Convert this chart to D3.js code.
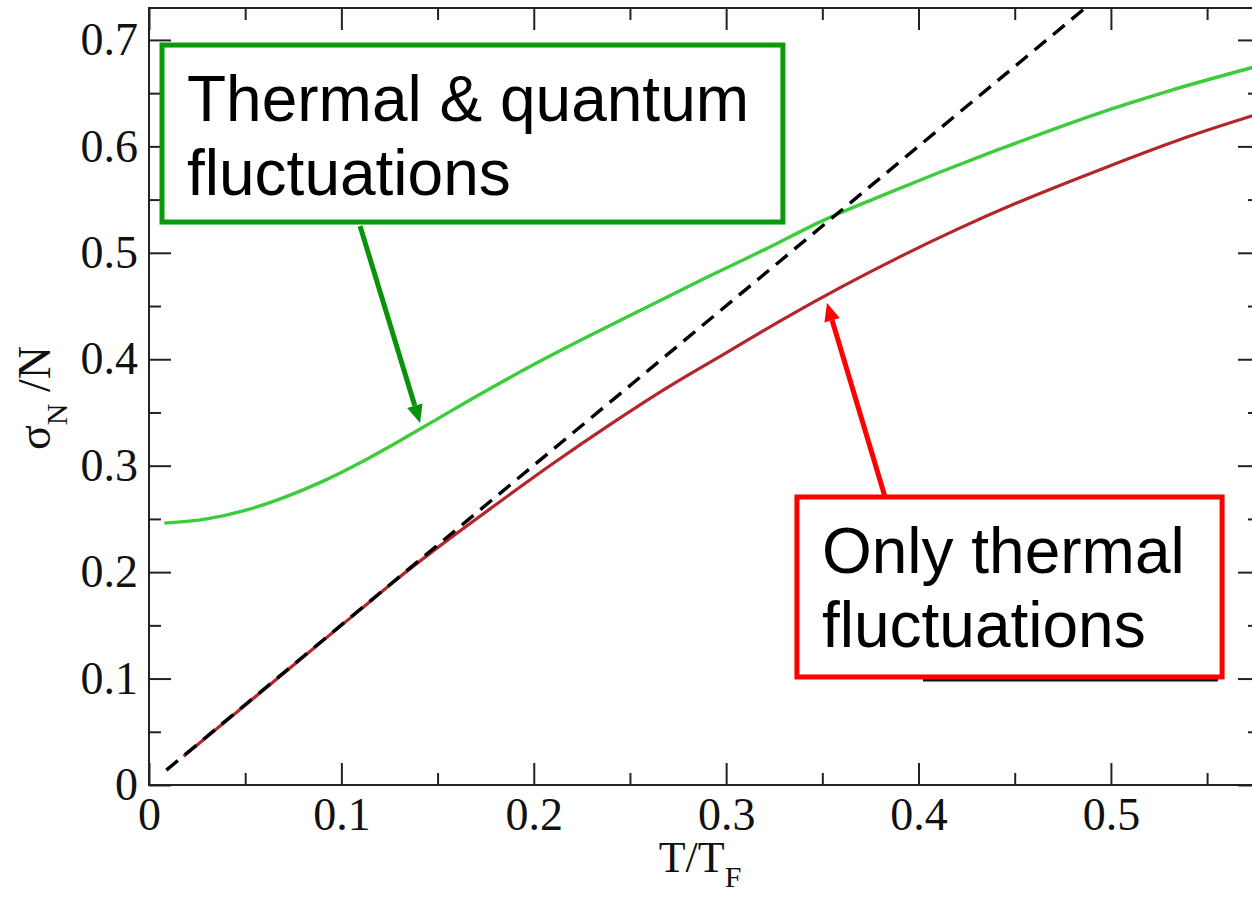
<!DOCTYPE html>
<html>
<head>
<meta charset="utf-8">
<script src="https://cdn.jsdelivr.net/npm/d3@7"></script>
<style>
  html, body { margin: 0; padding: 0; background: #fff; overflow: hidden; }
  svg { display: block; }
  .tick text { font-family: "Liberation Serif", "Times New Roman", serif; fill: #111; }
</style>
</head>
<body>
<div id="chart"></div>
<script>
// T/T_F values and sigma_N/N
var greenX = [0.008, 0.03, 0.05, 0.07, 0.09, 0.11, 0.13, 0.15, 0.17, 0.20, 0.23, 0.26, 0.29, 0.32, 0.35, 0.38, 0.41, 0.44, 0.47, 0.50, 0.53, 0.5775];
var greenY = [0.246, 0.250, 0.258, 0.270, 0.285, 0.303, 0.323, 0.344, 0.365, 0.395, 0.423, 0.450, 0.477, 0.503, 0.530, 0.553, 0.575, 0.596, 0.616, 0.635, 0.652, 0.676];

var redX = [0.018, 0.05, 0.08, 0.11, 0.13, 0.15, 0.18, 0.21, 0.24, 0.27, 0.30, 0.33, 0.36, 0.39, 0.42, 0.45, 0.48, 0.51, 0.54, 0.5775];
var redY = [0.027, 0.075, 0.120, 0.165, 0.195, 0.223, 0.263, 0.302, 0.339, 0.374, 0.406, 0.438, 0.468, 0.496, 0.522, 0.546, 0.568, 0.589, 0.609, 0.631];

var dashX = [0.009, 0.52];
var dashY = [0.014, 0.78];

var xMajor = [0, 0.1, 0.2, 0.3, 0.4, 0.5];
var xMinor = [0.05, 0.15, 0.25, 0.35, 0.45, 0.55];
var yMajor = [0, 0.1, 0.2, 0.3, 0.4, 0.5, 0.6, 0.7];
var yMinor = [0.05, 0.15, 0.25, 0.35, 0.45, 0.55, 0.65];

var greenLabel = ["Thermal & quantum", "fluctuations"];
var redLabel = ["Only thermal", "fluctuations"];

var width = 1252, height = 897;

var x = d3.scaleLinear().domain([0, 0.5775]).range([149, 1260]);
var y = d3.scaleLinear().domain([0, 0.73]).range([785, 8]);

var svg = d3.select("#chart").append("svg")
    .attr("width", width)
    .attr("height", height);

svg.append("defs").append("clipPath").attr("id", "plotclip")
    .append("rect")
    .attr("x", x(0)).attr("y", y(0.73))
    .attr("width", x(0.5775) - x(0))
    .attr("height", y(0) - y(0.73));

var fmt = function(d) { return d === 0 ? "0" : d3.format(".1f")(d); };

function styleAxis(g) {
    g.select(".domain").remove();
    g.selectAll(".tick line").attr("stroke", "#222").attr("stroke-width", 2);
}

// bottom axis
svg.append("g").attr("transform", "translate(0," + y(0) + ")")
    .call(d3.axisBottom(x).tickValues(xMajor).tickSize(-22).tickPadding(12).tickFormat(fmt))
    .call(styleAxis)
    .selectAll("text").attr("font-size", 46);
svg.append("g").attr("transform", "translate(0," + y(0) + ")")
    .call(d3.axisBottom(x).tickValues(xMinor).tickSize(-12).tickFormat(""))
    .call(styleAxis);

// top axis
svg.append("g").attr("transform", "translate(0," + y(0.73) + ")")
    .call(d3.axisTop(x).tickValues(xMajor).tickSize(-22).tickFormat(""))
    .call(styleAxis);
svg.append("g").attr("transform", "translate(0," + y(0.73) + ")")
    .call(d3.axisTop(x).tickValues(xMinor).tickSize(-12).tickFormat(""))
    .call(styleAxis);

// left axis
svg.append("g").attr("transform", "translate(" + x(0) + ",0)")
    .call(d3.axisLeft(y).tickValues(yMajor).tickSize(-22).tickPadding(11).tickFormat(fmt))
    .call(styleAxis)
    .selectAll("text").attr("font-size", 46);
svg.append("g").attr("transform", "translate(" + x(0) + ",0)")
    .call(d3.axisLeft(y).tickValues(yMinor).tickSize(-12).tickFormat(""))
    .call(styleAxis);

// right axis
svg.append("g").attr("transform", "translate(" + x(0.5775) + ",0)")
    .call(d3.axisRight(y).tickValues(yMajor).tickSize(-22).tickFormat(""))
    .call(styleAxis);
svg.append("g").attr("transform", "translate(" + x(0.5775) + ",0)")
    .call(d3.axisRight(y).tickValues(yMinor).tickSize(-12).tickFormat(""))
    .call(styleAxis);

// frame
svg.append("rect")
    .attr("x", x(0)).attr("y", y(0.73))
    .attr("width", x(0.5775) - x(0))
    .attr("height", y(0) - y(0.73))
    .attr("fill", "none")
    .attr("stroke", "#222")
    .attr("stroke-width", 2);

// curves
var line = d3.line()
    .x(function(d) { return x(d[0]); })
    .y(function(d) { return y(d[1]); })
    .curve(d3.curveMonotoneX);

var plot = svg.append("g").attr("clip-path", "url(#plotclip)");

plot.append("path")
    .datum(redX.map(function(v, i) { return [v, redY[i]]; }))
    .attr("d", line)
    .attr("fill", "none")
    .attr("stroke", "#b3262b")
    .attr("stroke-width", 3.2);

plot.append("path")
    .datum(greenX.map(function(v, i) { return [v, greenY[i]]; }))
    .attr("d", line)
    .attr("fill", "none")
    .attr("stroke", "#3ccc3c")
    .attr("stroke-width", 3.4);

plot.append("path")
    .datum(dashX.map(function(v, i) { return [v, dashY[i]]; }))
    .attr("d", d3.line().x(function(d) { return x(d[0]); }).y(function(d) { return y(d[1]); }))
    .attr("fill", "none")
    .attr("stroke", "#000")
    .attr("stroke-width", 3.4)
    .attr("stroke-dasharray", "15,9");

// leftover legend line peeking under the red box
svg.append("line")
    .attr("x1", x(0.4023)).attr("x2", x(0.5557))
    .attr("y1", y(0.0986)).attr("y2", y(0.0986))
    .attr("stroke", "#111").attr("stroke-width", 3);

// axis titles
var xt = svg.append("text")
    .attr("x", 700).attr("y", 872)
    .attr("text-anchor", "middle")
    .attr("font-family", "Liberation Serif, Times New Roman, serif")
    .attr("font-size", 44)
    .attr("fill", "#111");
xt.append("tspan").text("T/T");
xt.append("tspan").attr("font-size", 30).attr("dy", 15).text("F");

var yt = svg.append("text")
    .attr("transform", "translate(50,398) rotate(-90)")
    .attr("text-anchor", "middle")
    .attr("font-family", "Liberation Serif, Times New Roman, serif")
    .attr("font-size", 46)
    .attr("fill", "#111");
yt.append("tspan").text("σ");
yt.append("tspan").attr("font-size", 30).attr("dy", 17).text("N");
yt.append("tspan").attr("dy", -17).text(" /N");

// annotation boxes and arrows
function arrow(x0, y0, x1, y1, color) {
    var px0 = x(x0), py0 = y(y0), px1 = x(x1), py1 = y(y1);
    var ang = Math.atan2(py1 - py0, px1 - px0);
    var len = 18, half = 8;
    var bx = px1 - len * Math.cos(ang), by = py1 - len * Math.sin(ang);
    svg.append("line")
        .attr("x1", px0).attr("y1", py0)
        .attr("x2", bx).attr("y2", by)
        .attr("stroke", color).attr("stroke-width", 5);
    svg.append("polygon")
        .attr("points", [
            [px1, py1],
            [bx + half * Math.sin(ang), by - half * Math.cos(ang)],
            [bx - half * Math.sin(ang), by + half * Math.cos(ang)]
        ].map(function(p) { return p.join(","); }).join(" "))
        .attr("fill", color);
}

function box(x0, y0, x1, y1, color, lines) {
    var g = svg.append("g");
    g.append("rect")
        .attr("x", x(x0)).attr("y", y(y0))
        .attr("width", x(x1) - x(x0))
        .attr("height", y(y1) - y(y0))
        .attr("fill", "#fff")
        .attr("stroke", color)
        .attr("stroke-width", 5);
    g.selectAll("text").data(lines).enter().append("text")
        .attr("x", x(x0) + 25)
        .attr("y", function(d, i) { return y(y0) + 76 + i * 74; })
        .attr("font-family", "Liberation Sans, Arial, sans-serif")
        .attr("font-size", 64)
        .attr("fill", "#000")
        .text(function(d) { return d; });
}

arrow(0.1097, 0.5252, 0.1409, 0.3401, "#0a930a");
arrow(0.3826, 0.2706, 0.3524, 0.4528, "#ff0000");
box(0.00676, 0.6952, 0.3295, 0.5289, "#0a9a0a", greenLabel);
box(0.3368, 0.2706, 0.5578, 0.1015, "#ff0000", redLabel);
</script>
</body>
</html>
